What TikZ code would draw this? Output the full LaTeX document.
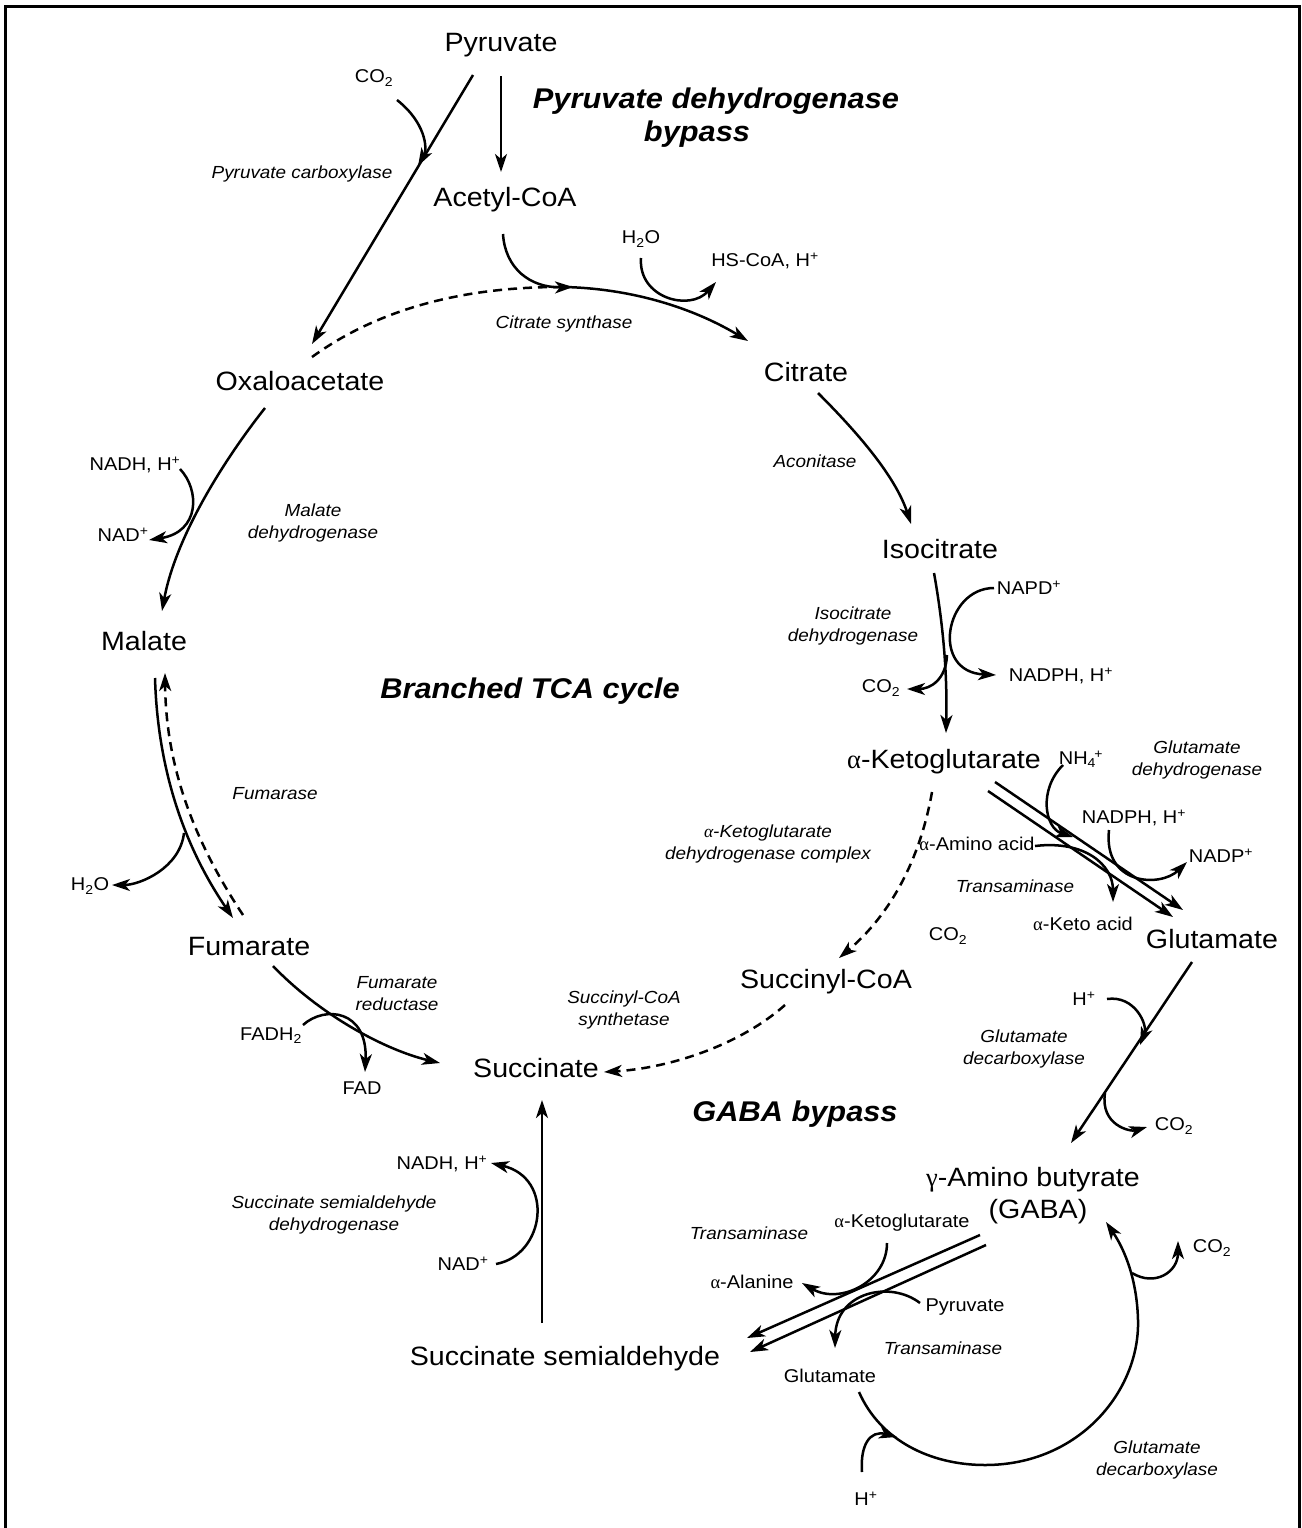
\documentclass[tikz,border=0pt]{standalone}
\usepackage{fontspec}
\setmainfont{Liberation Sans}[FakeStretch=1.08]
\newfontfamily\greekfont{Liberation Serif}
\usetikzlibrary{arrows.meta}
\newcommand{\supplus}{\textsuperscript{+}}
\newcommand{\subtwo}{\textsubscript{2}}
\newcommand{\alp}{{\greekfont α}}
\newcommand{\gam}{{\greekfont γ}}
\begin{document}
\begin{tikzpicture}[x=1pt,y=-1pt,line width=2.5pt,
  met/.style={font=\fontsize{26.5}{30}\selectfont,inner sep=0pt},
  sm/.style={font=\fontsize{18.5}{22}\selectfont,inner sep=0pt},
  enz/.style={font=\fontsize{17.5}{22}\selectfont\itshape,align=center,inner sep=0pt},
  ttl/.style={font=\fontsize{28.5}{33}\selectfont\bfseries\itshape,inner sep=0pt},
  rx/.style={-{Stealth[length=18pt,width=12pt,inset=5pt]}},
  dsh/.style={dash pattern=on 9pt off 6pt}]
\useasboundingbox (0,0) rectangle (1301,1528);
% open frame
\draw[line width=3pt] (5,1528) -- (5,7) -- (1299,7) -- (1299,1528);

% metabolites
\node[met] (pyr)  at (501,45)   {Pyruvate};
\node[met] (acoa) at (505,200)  {Acetyl-CoA};
\node[met] (cit)  at (806,372)  {Citrate};
\node[met] (oaa)  at (300,381)  {Oxaloacetate};
\node[met] (icit) at (940,549)  {Isocitrate};
\node[met] (mal)  at (144,641)  {Malate};
\node[met] (akg)  at (944,762)  {\alp-Ketoglutarate};
\node[met] (fum)  at (249,947)  {Fumarate};
\node[met] (glu)  at (1212,939) {Glutamate};
\node[met] (scoa) at (826,982)  {Succinyl-CoA};
\node[met] (suc)  at (536,1068) {Succinate};
\node[met] (gaba) at (1033,1180) {\gam-Amino butyrate};
\node[met] (gabb) at (1038,1212) {(GABA)};
\node[met] (ssa)  at (565,1359) {Succinate semialdehyde};

% pathway titles
\node[ttl] (t1) at (716,101)  {Pyruvate dehydrogenase};
\node[ttl] (t2) at (697,134)  {bypass};
\node[ttl] (t3) at (530,691)  {Branched TCA cycle};
\node[ttl] (t4) at (795,1114) {GABA bypass};

% enzymes
\node[enz] (e1)  at (302,174)  {Pyruvate carboxylase};
\node[enz] (e2)  at (564,324)  {Citrate synthase};
\node[enz] (e3)  at (815,461)  {Aconitase};
\node[enz] (e4)  at (313,523)  {Malate\\dehydrogenase};
\node[enz] (e5)  at (853,626)  {Isocitrate\\dehydrogenase};
\node[enz] (e6)  at (1197,760) {Glutamate\\dehydrogenase};
\node[enz] (e7)  at (275,794)  {Fumarase};
\node[enz] (e8)  at (768,844)  {\alp-Ketoglutarate\\dehydrogenase complex};
\node[enz] (e9)  at (1015,886) {Transaminase};
\node[enz] (e10) at (397,994)  {Fumarate\\reductase};
\node[enz] (e11) at (624,1010) {Succinyl-CoA\\synthetase};
\node[enz] (e12) at (1024,1049) {Glutamate\\decarboxylase};
\node[enz] (e13) at (334,1215) {Succinate semialdehyde\\dehydrogenase};
\node[enz] (e14) at (749,1233) {Transaminase};
\node[enz] (e15) at (943,1348) {Transaminase};
\node[enz] (e16) at (1157,1460) {Glutamate\\decarboxylase};

% cofactors and side products
\node[sm] (s1)  at (374,78)   {CO\subtwo};
\node[sm] (s2)  at (641,239)  {H\subtwo O};
\node[sm] (s3)  at (765,261)  {HS-CoA, H\supplus};
\node[sm] (s4)  at (135,465)  {NADH, H\supplus};
\node[sm] (s5)  at (123,535)  {NAD\supplus};
\node[sm] (s6)  at (1029,588) {NAPD\supplus};
\node[sm] (s7)  at (1061,676) {NADPH, H\supplus};
\node[sm] (s8)  at (881,688)  {CO\subtwo};
\node[sm] (s9)  at (1081,759) {NH\textsubscript{4}\kern-1.5pt\supplus};
\node[sm] (s10) at (1134,818) {NADPH, H\supplus};
\node[sm] (s11) at (1221,856) {NADP\supplus};
\node[sm] (s12) at (977,844)  {\alp-Amino acid};
\node[sm] (s13) at (1083,924) {\alp-Keto acid};
\node[sm] (s14) at (948,936)  {CO\subtwo};
\node[sm] (s15) at (90,886)   {H\subtwo O};
\node[sm] (s16) at (271,1036) {FADH\subtwo};
\node[sm] (s17) at (362,1088) {FAD};
\node[sm] (s18) at (1084,999) {H\supplus};
\node[sm] (s19) at (1174,1126) {CO\subtwo};
\node[sm] (s20) at (442,1164) {NADH, H\supplus};
\node[sm] (s21) at (463,1264) {NAD\supplus};
\node[sm] (s22) at (902,1223) {\alp-Ketoglutarate};
\node[sm] (s23) at (752,1282) {\alp-Alanine};
\node[sm] (s24) at (965,1307) {Pyruvate};
\node[sm] (s25) at (830,1376) {Glutamate};
\node[sm] (s26) at (1212,1248) {CO\subtwo};
\node[sm] (s27) at (866,1499) {H\supplus};

% connector end points
\coordinate (pyrA) at (501,76);   \coordinate (acoaT) at (501,172);
\coordinate (pyrB) at (473,75);   \coordinate (oaaT) at (312,344);
\coordinate (co2a) at (397,100);  \coordinate (pcJ) at (418,166);
\coordinate (acoaB) at (503,234); \coordinate (csJ) at (573,287);
\coordinate (csS) at (565,287);   \coordinate (citT) at (748,341);
\coordinate (oaaR) at (312,357);  \coordinate (csD) at (560,287);
\coordinate (h2oA) at (641,258);  \coordinate (hscoaT) at (716,282);
\coordinate (citB) at (818,393);  \coordinate (icitT) at (911,524);
\coordinate (oaaB) at (265,408);  \coordinate (malT) at (162,611);
\coordinate (nadhA) at (180,469); \coordinate (nadA) at (149,540);
\coordinate (icitB) at (934,573); \coordinate (akgT) at (946,733);
\coordinate (napdA) at (994,588); \coordinate (nadphA) at (996,675);
\coordinate (idhJ) at (947,655);  \coordinate (co2b) at (907,689);
\coordinate (akgB) at (932,792);  \coordinate (scoaT) at (839,958);
\coordinate (scoaB) at (785,1005); \coordinate (sucR) at (604,1072);
\coordinate (malB) at (155,678);  \coordinate (fumT) at (233,918);
\coordinate (fumT2) at (243,915); \coordinate (malB2) at (165,673);
\coordinate (fmJ) at (184,833);   \coordinate (h2oB) at (112,885);
\coordinate (fumB) at (273,966);  \coordinate (sucL) at (440,1063);
\coordinate (fadhA) at (303,1025); \coordinate (fadT) at (365,1072);
\coordinate (ssaT) at (542,1323); \coordinate (sucB) at (542,1100);
\coordinate (nadB) at (496,1264); \coordinate (nadhB) at (491,1163);
\coordinate (gluB) at (1192,962); \coordinate (gabaT) at (1071,1143);
\coordinate (hpA) at (1107,999);  \coordinate (gadJ) at (1140,1045);
\coordinate (gadK) at (1105,1093); \coordinate (co2c) at (1147,1127);
\coordinate (akgR1) at (995,782); \coordinate (gluT1) at (1183,910);
\coordinate (akgR2) at (988,791); \coordinate (gluT2) at (1173,917);
\coordinate (nh4A) at (1063,765); \coordinate (gdhJ) at (1073,837);
\coordinate (nadphB) at (1109,830); \coordinate (nadpT) at (1187,862);
\coordinate (aaA) at (1035,846);  \coordinate (kaT) at (1113,902);
\coordinate (gabaL1) at (980,1235); \coordinate (ssaR1) at (747,1338);
\coordinate (gabaL2) at (986,1245); \coordinate (ssaR2) at (750,1352);
\coordinate (akgS) at (887,1243); \coordinate (alaT) at (802,1283);
\coordinate (pyrS) at (920,1303); \coordinate (gluS) at (835,1348);
\coordinate (gluC) at (859,1392); \coordinate (gabaB) at (1106,1222);
\coordinate (hpB) at (862,1472);  \coordinate (gcJ) at (897,1437);
\coordinate (gcK) at (1132,1273); \coordinate (co2d) at (1178,1241);

% pyruvate branches
\draw[rx] (pyrA) -- (acoaT);
\draw[rx] (pyrB) -- (oaaT);
\draw[rx] (co2a) .. controls (425,122) and (428,148) .. (pcJ);

% citrate synthase
\draw[dsh] (oaaR) .. controls (370,315) and (450,287) .. (csD);
\draw[rx] (acoaB) .. controls (505,268) and (530,288) .. (csJ);
\draw[rx] (csS) .. controls (640,289) and (700,312) .. (citT);
\draw[rx] (h2oA) .. controls (638,298) and (690,312) .. (hscoaT);

% aconitase
\draw[rx] (citB) .. controls (855,430) and (895,475) .. (icitT);

% malate dehydrogenase
\draw[rx] (oaaB) .. controls (220,465) and (175,540) .. (malT);
\draw[rx] (nadhA) .. controls (200,490) and (200,532) .. (nadA);

% isocitrate dehydrogenase
\draw[rx] (icitB) .. controls (946,640) and (947,690) .. (akgT);
\draw[rx] (napdA) .. controls (945,588) and (930,672) .. (nadphA);
\draw[rx] (idhJ) .. controls (946,680) and (930,689) .. (co2b);

% alpha-ketoglutarate dehydrogenase complex and succinyl-CoA synthetase
\draw[rx,dsh] (akgB) .. controls (920,860) and (890,915) .. (scoaT);
\draw[rx,dsh] (scoaB) .. controls (740,1045) and (670,1068) .. (sucR);

% fumarase
\draw[rx] (malB) .. controls (158,780) and (190,855) .. (fumT);
\draw[rx,dsh] (fumT2) .. controls (200,850) and (166,775) .. (malB2);
\draw[rx] (fmJ) .. controls (180,868) and (140,885) .. (h2oB);

% fumarate reductase
\draw[rx] (fumB) .. controls (320,1015) and (385,1050) .. (sucL);
\draw[rx] (fadhA) .. controls (325,1005) and (368,1010) .. (fadT);

% succinate semialdehyde dehydrogenase
\draw[rx] (ssaT) -- (sucB);
\draw[rx] (nadB) .. controls (545,1255) and (555,1178) .. (nadhB);

% glutamate decarboxylase
\draw[rx] (gluB) -- (gabaT);
\draw[rx] (hpA) .. controls (1135,995) and (1148,1025) .. (gadJ);
\draw[rx] (gadK) .. controls (1100,1125) and (1130,1132) .. (co2c);

% glutamate dehydrogenase and transaminase
\draw[rx] (akgR1) -- (gluT1);
\draw[rx] (akgR2) -- (gluT2);
\draw[rx] (nh4A) .. controls (1038,790) and (1045,828) .. (gdhJ);
\draw[rx] (nadphB) .. controls (1103,885) and (1160,888) .. (nadpT);
\draw[rx] (aaA) .. controls (1085,840) and (1113,865) .. (kaT);

% GABA transaminases
\draw[rx] (gabaL1) -- (ssaR1);
\draw[rx] (gabaL2) -- (ssaR2);
\draw[rx] (akgS) .. controls (887,1282) and (840,1305) .. (alaT);
\draw[rx] (pyrS) .. controls (890,1280) and (836,1292) .. (gluS);

% glutamate decarboxylase loop back to GABA
\draw[rx] (gluC) .. controls (880,1440) and (930,1465) .. (985,1465)
  .. controls (1080,1465) and (1140,1390) .. (1138,1320)
  .. controls (1137,1280) and (1125,1250) .. (gabaB);
\draw[rx] (hpB) .. controls (860,1445) and (870,1430) .. (gcJ);
\draw[rx] (gcK) .. controls (1155,1287) and (1178,1272) .. (co2d);
\end{tikzpicture}
\end{document}
